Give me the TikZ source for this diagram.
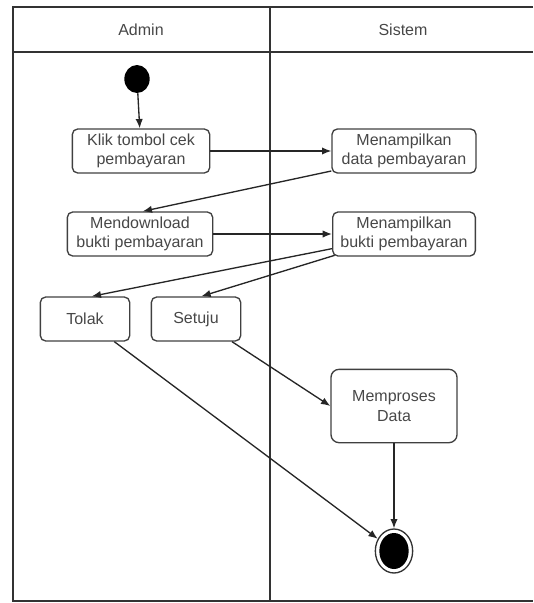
\documentclass[tikz,border=0pt]{standalone}
\usepackage{fontspec}
\setmainfont{Liberation Sans}
\usetikzlibrary{arrows.meta,positioning,shapes.geometric}

\begin{document}
\begin{tikzpicture}[x=0.75pt,y=-0.75pt,>={Latex[length=7pt,width=5.5pt]},
  font=\fontsize{12}{14.5}\selectfont,
  box/.style={draw=black!75,line width=1pt,rounded corners=4pt,align=center,
    inner sep=1pt,text=black!72,minimum width=103pt,minimum height=33pt},
  lane/.style={draw=black!80,line width=1.1pt},
  flow/.style={->,line width=1pt,draw=black!85}]
\useasboundingbox (0,0) rectangle (533,603);
% swimlanes
\draw[lane] (533,7) -- (13,7) -- (13,601) -- (533,601);
\draw[lane] (13,52) -- (533,52);
\draw[lane] (270,7) -- (270,601);
\node[text=black!72] (admin) at (141,30) {Admin};
\node[text=black!72] (sistem) at (403,30) {Sistem};
% nodes
\node[ellipse,fill=black,minimum width=19pt,minimum height=21pt,inner sep=0pt] (start) at (137,79) {};
\node[box] (klik) at (141,151) {Klik tombol cek\\pembayaran};
\node[box,minimum width=108pt] (tampilData) at (404,151) {Menampilkan\\data pembayaran};
\node[box,minimum width=109pt] (download) at (140,234) {Mendownload\\bukti pembayaran};
\node[box,minimum width=107pt] (tampilBukti) at (404,234) {Menampilkan\\bukti pembayaran};
\node[box,minimum width=67pt] (tolak) at (85,319) {Tolak};
\node[box,minimum width=67pt] (setuju) at (196,319) {Setuju};
\node[box,minimum width=94.5pt,minimum height=55pt,rounded corners=6pt] (proses) at (394,406) {Memproses\\Data};
\node[ellipse,draw=black!80,line width=1pt,minimum width=28pt,minimum height=33pt,inner sep=0pt] (end) at (394,551) {};
\node[ellipse,fill=black,minimum width=22pt,minimum height=27pt,inner sep=0pt] (endDot) at (end.center) {};
% flows
\draw[flow] (start) -- (klik);
\draw[flow] (klik) -- (tampilData);
\draw[flow] ([yshift=2pt]tampilData.south west) -- ([xshift=2pt]download.north);
\draw[flow] (download) -- (tampilBukti);
\draw[flow] ([yshift=6pt]tampilBukti.south west) -- ([xshift=5pt]tolak.north);
\draw[flow] ([xshift=2pt,yshift=1pt]tampilBukti.south west) -- ([xshift=4pt]setuju.north);
\draw[flow] ([xshift=-7pt]setuju.south east) -- (proses.west);
\draw[flow] ([xshift=-12pt]tolak.south east) -- (end);
\draw[flow] (proses) -- (end);
\end{tikzpicture}
\end{document}
